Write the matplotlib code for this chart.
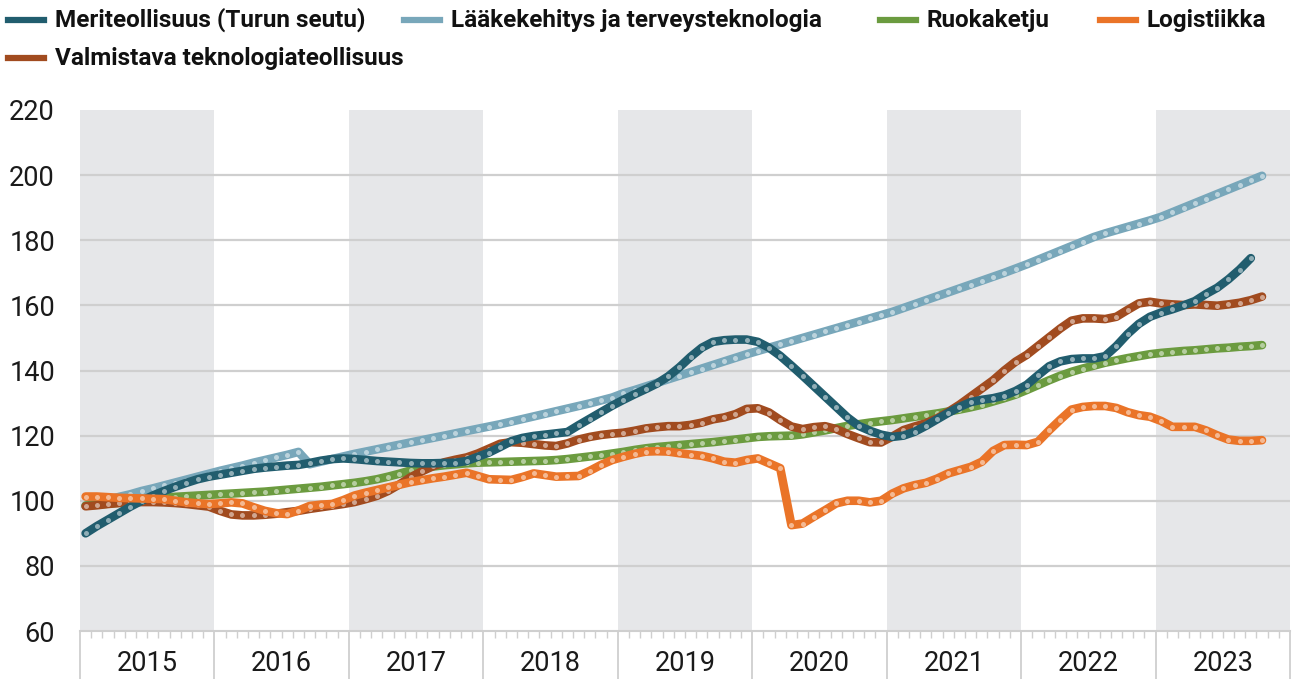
import numpy as np
import matplotlib
matplotlib.use("Agg")
import matplotlib.pyplot as plt
from matplotlib.lines import Line2D
from matplotlib.transforms import blended_transform_factory

# Monthly index values, Jan 2015 ->
meriteollisuus = [
    90.0, 92.2, 94.2, 96.2, 98.2, 100.0, 101.6, 103.0, 104.3, 105.5, 106.6, 107.4,
    108.0, 108.6, 109.2, 109.8, 110.2, 110.5, 110.8, 111.0, 111.6, 112.3, 112.8, 113.0,
    112.8, 112.5, 112.2, 112.0, 111.8, 111.6, 111.5, 111.5, 111.6, 111.7, 112.2, 113.5,
    114.8, 116.5, 118.3, 119.3, 119.9, 120.3, 120.7, 121.1, 123.2, 125.2, 127.2, 129.2,
    131.0, 132.7, 134.3, 136.0, 138.2, 141.0, 144.2, 147.0, 148.8, 149.3, 149.5, 149.5,
    148.8, 147.0, 144.5, 141.5, 138.4, 135.2, 132.0, 128.8, 125.6, 123.0, 121.5, 120.3,
    119.6, 120.0, 121.2, 123.0, 125.0, 127.0, 128.8, 130.3, 131.0, 131.5, 132.3, 133.7,
    135.6, 138.5, 141.3, 142.8, 143.5, 143.7, 143.7, 144.4, 147.5, 151.2, 154.3, 156.5,
    157.8, 158.8, 160.0, 161.3, 163.5, 165.4, 168.0, 171.0, 174.5,
]
laakekehitys = [
    98.5, 99.5, 100.3, 101.2, 102.0, 103.0, 103.8, 104.7, 105.6, 106.5, 107.4, 108.3,
    109.2, 110.0, 110.8, 111.7, 112.5, 113.3, 114.1, 115.0, 111.2, 112.0, 112.8, 113.6,
    114.4, 115.1, 115.8, 116.5, 117.2, 117.9, 118.6, 119.3, 120.0, 120.7, 121.4, 122.1,
    122.8, 123.5, 124.3, 125.1, 125.9, 126.7, 127.5, 128.3, 129.1, 129.9, 130.8, 131.7,
    133.0, 134.0, 135.1, 136.2, 137.3, 138.4, 139.5, 140.6, 141.7, 142.8, 143.9, 145.0,
    146.0, 147.0, 148.0, 149.0, 150.0, 151.0, 152.0, 153.0, 154.0, 155.0, 156.0, 157.0,
    158.0, 159.2, 160.4, 161.6, 162.8, 164.0, 165.2, 166.4, 167.6, 168.8, 170.0, 171.3,
    172.6, 174.0, 175.4, 176.8, 178.2, 179.6, 181.0, 182.1, 183.1, 184.1, 185.1, 186.1,
    187.2, 188.6, 190.0, 191.4, 192.8, 194.2, 195.6, 197.0, 198.4, 199.8,
]
ruokaketju = [
    98.5, 98.8, 99.1, 99.4, 99.8, 100.2, 100.6, 100.9, 101.2, 101.4, 101.6, 101.8,
    102.0, 102.2, 102.4, 102.6, 102.8, 103.1, 103.4, 103.7, 104.0, 104.3, 104.7, 105.1,
    105.5, 106.0, 106.6, 107.4, 108.3, 109.3, 110.0, 110.5, 110.9, 111.2, 111.5, 111.7,
    111.8, 111.9, 112.0, 112.1, 112.2, 112.3, 112.5, 112.8, 113.2, 113.6, 114.0, 114.5,
    115.0, 115.6, 116.1, 116.5, 116.8, 117.1, 117.4, 117.7, 118.0, 118.4, 118.8, 119.2,
    119.6, 119.8, 119.9, 120.0, 120.4, 121.0, 121.6, 122.3, 123.0, 123.5, 124.0, 124.4,
    124.8, 125.3, 125.8, 126.3, 126.8, 127.4, 128.0, 128.7, 129.5, 130.5, 131.5, 132.6,
    134.0, 135.5, 137.0, 138.4, 139.6, 140.6, 141.5, 142.4, 143.1, 143.8, 144.4, 145.0,
    145.4, 145.7, 146.0, 146.2, 146.5, 146.8, 147.0, 147.3, 147.5, 147.8,
]
logistiikka = [
    101.3, 101.3, 101.1, 100.9, 100.8, 100.7, 100.6, 100.5, 100.0, 99.5, 99.2, 99.0,
    99.2, 99.5, 99.2, 98.0, 96.9, 96.2, 95.9, 97.0, 98.4, 98.8, 99.0, 100.2,
    101.6, 102.5, 103.3, 104.1, 104.9, 105.7, 106.3, 106.9, 107.4, 108.0, 108.6, 107.6,
    106.6, 106.5, 106.4, 107.3, 108.4, 107.9, 107.4, 107.5, 107.6, 109.2, 111.0, 112.5,
    113.5, 114.4, 115.1, 115.2, 115.1, 114.6, 114.2, 113.8, 113.0, 112.0, 111.7, 112.5,
    113.0, 111.5, 110.0, 92.5, 93.0, 95.1, 97.1, 99.2, 100.0, 100.0, 99.5, 100.0,
    102.2, 103.8, 104.8, 105.5, 106.8, 108.4, 109.4, 110.4, 112.0, 115.3, 117.1, 117.2,
    117.1, 118.1, 121.6, 124.9, 128.0, 128.8, 129.1, 129.1, 128.5, 127.2, 126.3, 125.8,
    124.5, 122.7, 122.7, 122.7, 121.6, 120.1, 118.8, 118.4, 118.4, 118.6,
]
valmistava = [
    98.3, 98.6, 99.0, 99.3, 99.5, 99.6, 99.6, 99.5, 99.3, 99.0, 98.6, 98.2,
    96.9, 95.8, 95.5, 95.5, 95.7, 96.0, 96.5, 96.9, 97.5, 98.0, 98.5, 99.0,
    99.6, 100.5, 101.5, 103.0, 105.0, 107.2, 109.0, 110.6, 111.8, 112.6, 113.3, 114.5,
    116.0, 117.5, 118.0, 117.8, 117.4, 117.0, 116.8, 117.6, 118.8, 119.6, 120.2, 120.6,
    120.9, 121.5, 122.2, 122.6, 122.9, 122.9, 123.3, 124.0, 125.0, 125.6, 126.6, 128.2,
    128.4, 127.1, 124.8, 122.8, 122.0, 122.6, 122.9, 122.0, 120.5, 119.2, 118.0, 117.9,
    119.7, 121.7, 122.8, 123.8, 125.3, 127.3, 129.5, 132.0, 134.5, 137.0, 140.0, 142.7,
    144.8, 147.5, 150.2, 152.9, 155.3, 156.0, 156.0, 155.8, 156.5, 158.6, 160.6, 161.1,
    160.6, 160.3, 160.1, 160.3, 160.1, 159.9, 160.3, 160.8, 161.6, 162.7,
]

years = [2015, 2016, 2017, 2018, 2019, 2020, 2021, 2022, 2023]
y_ticks = [60, 80, 100, 120, 140, 160, 180, 200, 220]

# name, values, colour, zorder (list order = legend order)
series = [
    ("Meriteollisuus (Turun seutu)", meriteollisuus, "#215d6e", 6),
    ("Lääkekehitys ja terveysteknologia", laakekehitys, "#78a7ba", 3),
    ("Ruokaketju", ruokaketju, "#6b9b3f", 4),
    ("Logistiikka", logistiikka, "#ea7428", 7),
    ("Valmistava teknologiateollisuus", valmistava, "#a14b1f", 5),
]

plt.rcParams['font.family'] = ['Roboto', 'DejaVu Sans']

W, H = 1296, 679
fig = plt.figure(figsize=(W / 100, H / 100), dpi=100)
ax = fig.add_axes([80 / W, 1 - 631 / H, 1210 / W, 521 / H])

# alternating year bands
for i, yr in enumerate(years):
    if i % 2 == 0:
        ax.axvspan(yr, yr + 1, color="#e6e7e9", lw=0, zorder=0)

for v in y_ticks[1:-1]:
    ax.axhline(v, color="#cfcfcf", lw=1.6, zorder=1)

for name, vals, col, z in series:
    x = years[0] + (np.arange(len(vals)) + 0.5) / 12
    ax.plot(x, vals, color=col, lw=6.2, solid_capstyle="round",
            solid_joinstyle="round", zorder=z)
    ax.plot(x, vals, "o", ms=3.6, color="white", alpha=0.5, mec="none",
            zorder=z + 0.5)

ax.set_xlim(years[0], years[-1] + 1)
ax.set_ylim(60, 220)

for s in ["top", "right", "left"]:
    ax.spines[s].set_visible(False)
ax.spines["bottom"].set_color("#cfcfcf")
ax.spines["bottom"].set_linewidth(1.5)

ax.set_yticks(y_ticks)
ax.set_yticklabels([str(v) for v in y_ticks], fontsize=19.5, color="#1a1a1a")
ax.tick_params(axis="y", length=0, pad=18)

ax.set_xticks(years + [years[-1] + 1])
ax.set_xticklabels([])
ax.set_xticks(years[0] + np.arange(1, 12 * len(years)) / 12, minor=True)
ax.tick_params(axis="x", which="major", length=36, width=1.3, color="#cfcfcf")
ax.tick_params(axis="x", which="minor", length=5, width=1.0, color="#cfcfcf")

trans = blended_transform_factory(ax.transData, ax.transAxes)
for yr in years:
    ax.text(yr + 0.5, -0.062, str(yr), transform=trans, ha="center",
            va="center", fontsize=19.5, color="#1a1a1a")

# legend, laid out by hand like the original
legend_pos = [(8, 20), (404, 20), (880, 20), (1100, 20), (8, 58)]
for (name, vals, col, z), (px, py) in zip(series, legend_pos):
    fy = 1 - py / H
    fig.add_artist(Line2D([px / W, (px + 36) / W], [fy, fy], color=col, lw=4.5,
                          transform=fig.transFigure))
    fig.text((px + 47) / W, fy, name, fontsize=17.5, fontweight="bold",
             color="#111111", va="center", ha="left")

fig.savefig("out.png", dpi=100)
